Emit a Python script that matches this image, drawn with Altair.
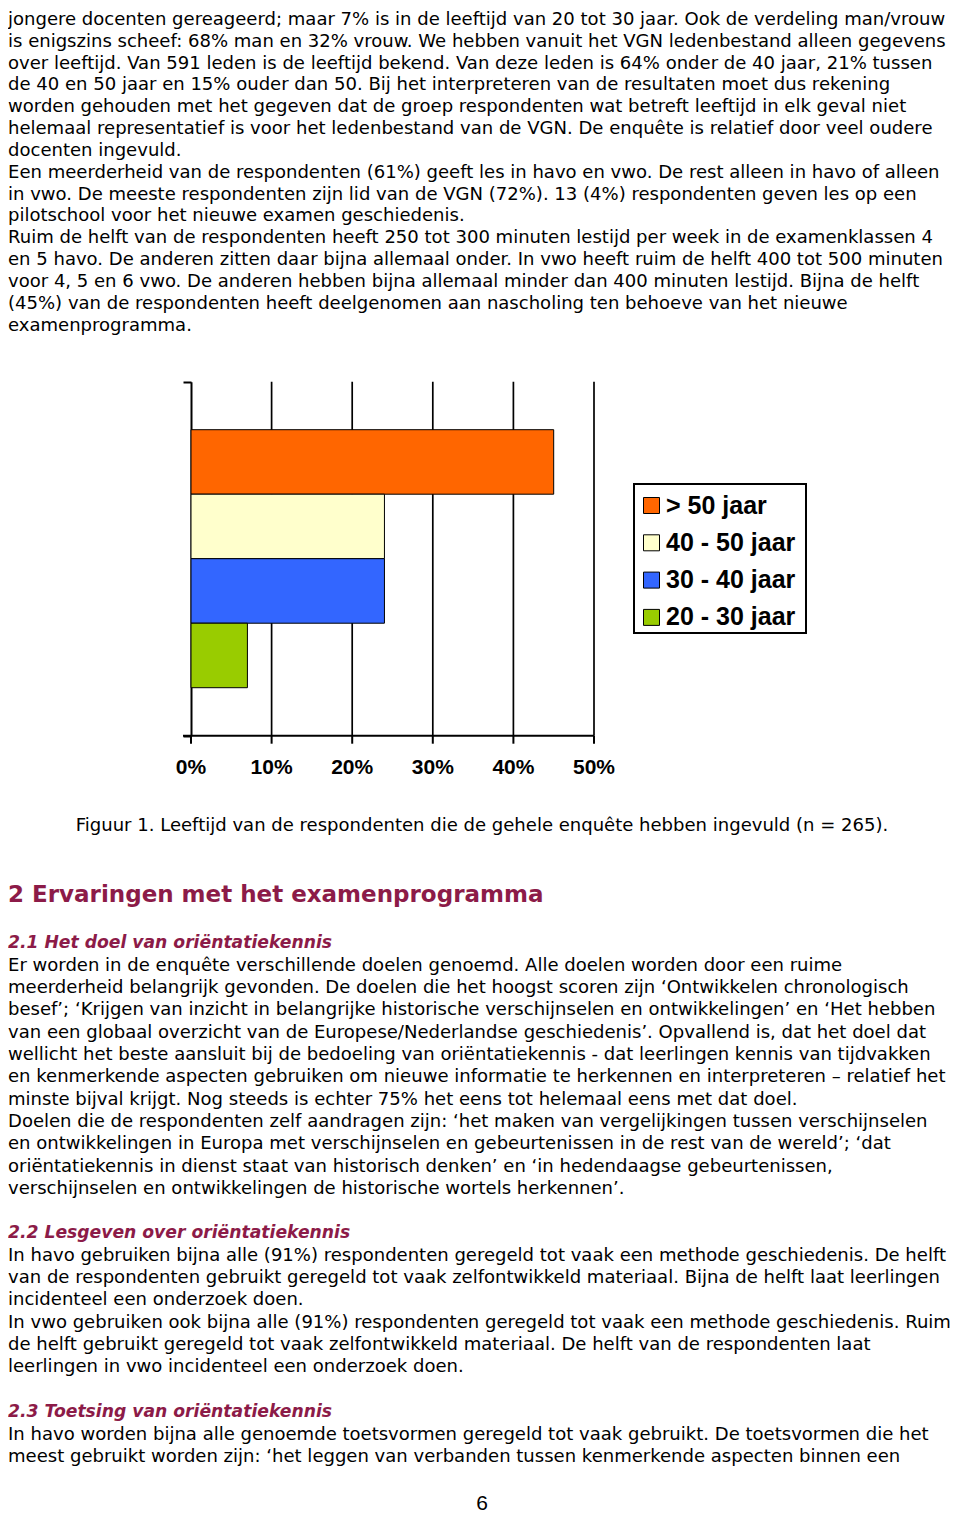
import altair as alt
import pandas as pd

# ---------------- chart data ----------------
series = ["> 50 jaar", "40 - 50 jaar", "30 - 40 jaar", "20 - 30 jaar"]
shares = [45, 24, 24, 7]
colors = ["#FF6600", "#FFFFCC", "#3366FF", "#99CC00"]
x_ticks = [0, 10, 20, 30, 40, 50]
tick_labels = ["0%", "10%", "20%", "30%", "40%", "50%"]
group = "Leeftijd"

# ---------------- page text ----------------
block_a = [
    "jongere docenten gereageerd; maar 7% is in de leeftijd van 20 tot 30 jaar. Ook de verdeling man/vrouw",
    "is enigszins scheef: 68% man en 32% vrouw. We hebben vanuit het VGN ledenbestand alleen gegevens",
    "over leeftijd. Van 591 leden is de leeftijd bekend. Van deze leden is 64% onder de 40 jaar, 21% tussen",
    "de 40 en 50 jaar en 15% ouder dan 50. Bij het interpreteren van de resultaten moet dus rekening",
    "worden gehouden met het gegeven dat de groep respondenten wat betreft leeftijd in elk geval niet",
    "helemaal representatief is voor het ledenbestand van de VGN. De enquête is relatief door veel oudere",
    "docenten ingevuld.",
    "Een meerderheid van de respondenten (61%) geeft les in havo en vwo. De rest alleen in havo of alleen",
    "in vwo. De meeste respondenten zijn lid van de VGN (72%). 13 (4%) respondenten geven les op een",
    "pilotschool voor het nieuwe examen geschiedenis.",
    "Ruim de helft van de respondenten heeft 250 tot 300 minuten lestijd per week in de examenklassen 4",
    "en 5 havo. De anderen zitten daar bijna allemaal onder. In vwo heeft ruim de helft 400 tot 500 minuten",
    "voor 4, 5 en 6 vwo. De anderen hebben bijna allemaal minder dan 400 minuten lestijd. Bijna de helft",
    "(45%) van de respondenten heeft deelgenomen aan nascholing ten behoeve van het nieuwe",
    "examenprogramma.",
]
caption = ["Figuur 1. Leeftijd van de respondenten die de gehele enquête hebben ingevuld (n = 265)."]
heading = ["2 Ervaringen met het examenprogramma"]
sub_1 = ["2.1 Het doel van oriëntatiekennis"]
block_b = [
    "Er worden in de enquête verschillende doelen genoemd. Alle doelen worden door een ruime",
    "meerderheid belangrijk gevonden. De doelen die het hoogst scoren zijn ‘Ontwikkelen chronologisch",
    "besef’; ‘Krijgen van inzicht in belangrijke historische verschijnselen en ontwikkelingen’ en ‘Het hebben",
    "van een globaal overzicht van de Europese/Nederlandse geschiedenis’. Opvallend is, dat het doel dat",
    "wellicht het beste aansluit bij de bedoeling van oriëntatiekennis - dat leerlingen kennis van tijdvakken",
    "en kenmerkende aspecten gebruiken om nieuwe informatie te herkennen en interpreteren – relatief het",
    "minste bijval krijgt. Nog steeds is echter 75% het eens tot helemaal eens met dat doel.",
    "Doelen die de respondenten zelf aandragen zijn: ‘het maken van vergelijkingen tussen verschijnselen",
    "en ontwikkelingen in Europa met verschijnselen en gebeurtenissen in de rest van de wereld’; ‘dat",
    "oriëntatiekennis in dienst staat van historisch denken’ en ‘in hedendaagse gebeurtenissen,",
    "verschijnselen en ontwikkelingen de historische wortels herkennen’.",
]
sub_2 = ["2.2 Lesgeven over oriëntatiekennis"]
block_c = [
    "In havo gebruiken bijna alle (91%) respondenten geregeld tot vaak een methode geschiedenis. De helft",
    "van de respondenten gebruikt geregeld tot vaak zelfontwikkeld materiaal. Bijna de helft laat leerlingen",
    "incidenteel een onderzoek doen.",
    "In vwo gebruiken ook bijna alle (91%) respondenten geregeld tot vaak een methode geschiedenis. Ruim",
    "de helft gebruikt geregeld tot vaak zelfontwikkeld materiaal. De helft van de respondenten laat",
    "leerlingen in vwo incidenteel een onderzoek doen.",
]
sub_3 = ["2.3 Toetsing van oriëntatiekennis"]
block_d = [
    "In havo worden bijna alle genoemde toetsvormen geregeld tot vaak gebruikt. De toetsvormen die het",
    "meest gebruikt worden zijn: ‘het leggen van verbanden tussen kenmerkende aspecten binnen een",
]
page_no = ["6"]

# ---------------- layout ----------------
W, H = 944, 1506
LINE = 22.35
BODY = 18.05
RED = "#8C1B48"
PLOT_TOP, PLOT_BOTTOM = 373.7, 727.7
X0, X50 = 183, 586

x_scale = alt.Scale(domain=[0, 50], range=[X0, X50], nice=False, zero=True)
y_scale = alt.Scale(domain=[group], range=[PLOT_TOP, PLOT_BOTTOM], paddingInner=0, paddingOuter=0)

bar_df = pd.DataFrame({"group": [group] * len(series), "series": series, "share": shares})
grid_df = pd.DataFrame({"v": x_ticks[1:]})
tick_df = pd.DataFrame({"v": x_ticks, "lab": tick_labels})

grid = alt.Chart(grid_df).mark_rule(color="black", strokeWidth=1.7).encode(
    x=alt.X("v:Q", scale=x_scale, axis=None),
    y=alt.value(PLOT_TOP),
    y2=alt.value(PLOT_BOTTOM),
)

# x axis (crossing at the bottom of the plot)
x_domain = alt.Chart(pd.DataFrame({"k": [0]})).mark_rule(color="black", strokeWidth=2).encode(
    x=alt.value(X0 - 8), x2=alt.value(X50), y=alt.value(PLOT_BOTTOM)
)
x_tick_marks = alt.Chart(tick_df).mark_rule(color="black", strokeWidth=2).encode(
    x=alt.X("v:Q", scale=x_scale, axis=None),
    y=alt.value(PLOT_BOTTOM),
    y2=alt.value(PLOT_BOTTOM + 8),
)
x_tick_labels = alt.Chart(tick_df).mark_text(
    font="Liberation Sans", fontSize=21, fontWeight="bold", color="black",
    align="center", baseline="middle",
).encode(
    x=alt.X("v:Q", scale=x_scale, axis=None),
    y=alt.value(PLOT_BOTTOM + 32),
    text="lab:N",
)

bars = alt.Chart(bar_df).mark_bar(stroke="black", strokeWidth=1).encode(
    x=alt.X("share:Q", scale=x_scale, axis=None),
    y=alt.Y(
        "group:N",
        scale=y_scale,
        axis=alt.Axis(
            orient="left", offset=-X0, labels=False, ticks=True, tickBand="extent",
            tickSize=8, tickWidth=2, tickColor="black", domainColor="black",
            domainWidth=2, grid=False, title=None,
        ),
    ),
    yOffset=alt.YOffset("series:N", scale=alt.Scale(domain=series, paddingInner=0, paddingOuter=0.744)),
    color=alt.Color(
        "series:N",
        scale=alt.Scale(domain=series, range=colors),
        legend=alt.Legend(
            orient="none", legendX=631, legendY=485, title=None, padding=0,
            symbolType="square", symbolSize=256, symbolStrokeColor="black",
            symbolStrokeWidth=1, labelFont="Liberation Sans", labelFontSize=25,
            labelFontWeight="bold", labelColor="black", labelOffset=2,
            rowPadding=11.3, labelLimit=300, strokeColor="transparent",
        ),
    ),
)

legend_box = alt.Chart(pd.DataFrame({"k": [0]})).mark_rect(
    fill="white", stroke="black", strokeWidth=2
).encode(x=alt.value(626), x2=alt.value(798), y=alt.value(476), y2=alt.value(625))


def text_layer(lines, y0, size=BODY, weight="normal", style="normal", color="black",
               align="left", x=0, font="DejaVu Sans", step=LINE):
    df = pd.DataFrame({"t": lines, "y": [y0 + i * step for i in range(len(lines))]})
    return alt.Chart(df).mark_text(
        align=align, baseline="middle", font=font, fontSize=size,
        fontWeight=weight, fontStyle=style, color=color,
    ).encode(
        x=alt.value(x),
        y=alt.Y("y:Q", scale=None, axis=None),
        text="t:N",
    )


texts = [
    text_layer(block_a, 12, step=(317.5 - 12) / 14),
    text_layer(caption, 817.5, align="center", x=474),
    text_layer(heading, 887, size=23, weight="bold", color=RED),
    text_layer(sub_1, 935, size=17.2, weight="bold", style="italic", color=RED),
    text_layer(block_b, 957.5),
    text_layer(sub_2, 1225, size=17.2, weight="bold", style="italic", color=RED),
    text_layer(block_c, 1247.5),
    text_layer(sub_3, 1404, size=17.2, weight="bold", style="italic", color=RED),
    text_layer(block_d, 1426.5),
    text_layer(page_no, 1496, size=21, align="center", x=474, font="Liberation Sans"),
]

chart = alt.layer(
    grid, bars, x_domain, x_tick_marks, x_tick_labels, legend_box, *texts
).properties(
    width=W, height=H, autosize=alt.AutoSizeParams(type="none"), padding=0
).configure_view(strokeWidth=0)

chart.save("out.html", embed_options={"renderer": "svg", "actions": False})
